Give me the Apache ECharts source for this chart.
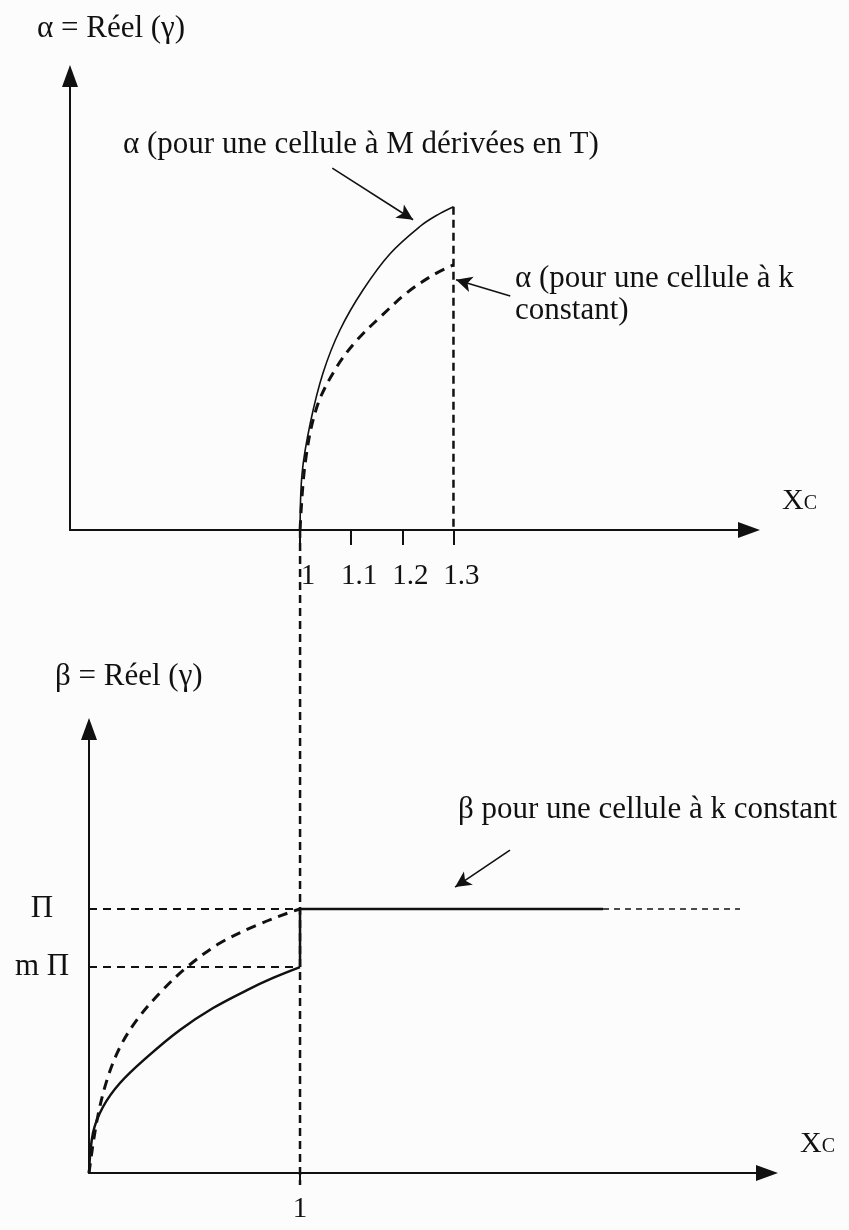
<!DOCTYPE html>
<html>
<head>
<meta charset="utf-8">
<script src="https://cdn.jsdelivr.net/npm/echarts@6/dist/echarts.min.js"></script>
<style>
  html, body { margin: 0; padding: 0; background: #fcfcfc; }
  #chart { width: 849px; height: 1230px; }
</style>
</head>
<body>
<div id="chart"></div>
<script>
// ---- upper panel: alpha versus Xc ----
const alphaX = [1, 1.004, 1.020, 1.045, 1.078, 1.123, 1.176, 1.235, 1.268, 1.3];
const alphaM = [0, 12.3, 23.0, 33.8, 43.0, 51.6, 59.4, 65.3, 67.7, 69.5];      // cell with M derived in T
const alphaKX = [1, 1.010, 1.033, 1.072, 1.112, 1.157, 1.209, 1.260, 1.3];
const alphaK = [0, 14.4, 26.5, 35.1, 40.9, 45.8, 51.0, 54.8, 57.0];      // cell with constant k
const alphaTicks = [1, 1.1, 1.2, 1.3];
const alphaTickLabels = ['1', '1.1', '1.2', '1.3'];
const arrowToM = [[1.063, 77.8], [1.221, 66.7]];
const arrowToK = [[1.411, 50.3], [1.305, 53.8]];

// ---- lower panel: beta versus Xc ----
const betaX = [0, 0.019, 0.066, 0.147, 0.275, 0.431, 0.588, 0.749, 0.872, 1];
const betaM = [0, 0.152, 0.25, 0.341, 0.439, 0.542, 0.625, 0.693, 0.739, 0.78];
const betaKX = [0, 0.038, 0.085, 0.147, 0.227, 0.336, 0.464, 0.621, 0.796, 0.967, 1];
const betaK = [0, 0.2, 0.352, 0.477, 0.58, 0.682, 0.78, 0.871, 0.939, 0.992, 1];
const PI_LEVEL = 1;
const M_PI_LEVEL = 0.78;
const plateauSolidEnd = 2.436;
const plateauDashEnd = 3.085;
const betaTicks = [1];
const betaTickLabels = ['1'];
const levelTicks = [M_PI_LEVEL, PI_LEVEL];
const levelLabels = ['m Π', 'Π'];
const arrowToPlateau = [[1.995, 1.223], [1.735, 1.083]];

const INK = '#111';
const FONT = 'Liberation Serif, Times New Roman, serif';
const zip = (xs, ys) => xs.map((x, i) => [x, ys[i]]);

const axisLine = {
  show: true, onZero: false,
  symbol: ['none', 'triangle'], symbolSize: [16, 22],
  lineStyle: { color: INK, width: 2 }
};
const textStyle = { fontFamily: FONT, fontSize: 31, color: INK, fontWeight: 'normal', lineHeight: 32 };
const xcName = {
  name: '{x|X}{c|C}',
  nameLocation: 'end',
  nameGap: 33,
  nameTextStyle: {
    verticalAlign: 'bottom', padding: [0, 0, 14, 0],
    rich: {
      x: { fontFamily: FONT, fontSize: 30, color: INK },
      c: { fontFamily: FONT, fontSize: 20, color: INK, padding: [5, 0, 0, 0] }
    }
  }
};

const line = (grid, data, width, type, extra) => Object.assign({
  type: 'line', xAxisIndex: grid, yAxisIndex: grid, data: data,
  showSymbol: false, symbol: 'none', silent: true,
  lineStyle: { color: INK, width: width, type: type }
}, extra || {});

const arrowMark = (pairs) => ({
  silent: true, symbol: ['none', 'arrow'], symbolSize: [12, 16],
  lineStyle: { color: INK, width: 1.6, type: 'solid' },
  label: { show: false },
  data: pairs.map(p => [{ coord: p[0] }, { coord: p[1] }])
});

const chart = echarts.init(document.getElementById('chart'), null, { renderer: 'canvas' });

chart.setOption({
  animation: false,
  backgroundColor: '#fcfcfc',
  title: [
    { text: 'α = Réel (γ)', left: 32, top: 8, textStyle: textStyle },
    { text: 'α (pour une cellule à M dérivées en T)', left: 118, top: 124, textStyle: textStyle },
    { text: 'α (pour une cellule à k\nconstant)', left: 510, top: 258, textStyle: textStyle },
    { text: 'β = Réel (γ)', left: 50, top: 656, textStyle: textStyle },
    { text: 'β pour une cellule à k constant', left: 453, top: 789, textStyle: textStyle }
  ],
  grid: [
    { left: 70, top: 76, width: 679, height: 454 },
    { left: 89, top: 729, width: 678, height: 444 }
  ],
  xAxis: [
    Object.assign({
      gridIndex: 0, type: 'value', min: 0.55, max: 1.878,
      axisLine: axisLine,
      axisTick: { show: true, customValues: alphaTicks, length: 15, lineStyle: { color: INK, width: 2 } },
      axisLabel: {
        customValues: alphaTicks, margin: 32,
        fontFamily: FONT, fontSize: 29, color: INK,
        formatter: v => '{t|' + alphaTickLabels[alphaTicks.indexOf(v)] + '}',
        rich: { t: { fontFamily: FONT, fontSize: 29, color: INK, padding: [0, 0, 0, 16] } }
      },
      splitLine: { show: false }
    }, xcName),
    Object.assign({
      gridIndex: 1, type: 'value', min: 0, max: 3.213,
      axisLine: axisLine,
      axisTick: { show: true, customValues: betaTicks, length: 12, lineStyle: { color: INK, width: 2 } },
      axisLabel: {
        customValues: betaTicks, margin: 22,
        fontFamily: FONT, fontSize: 29, color: INK,
        formatter: v => betaTickLabels[betaTicks.indexOf(v)]
      },
      splitLine: { show: false }
    }, xcName)
  ],
  yAxis: [
    {
      gridIndex: 0, type: 'value', min: 0, max: 97.6,
      axisLine: axisLine, axisTick: { show: false },
      axisLabel: { show: false }, splitLine: { show: false }
    },
    {
      gridIndex: 1, type: 'value', min: 0, max: 1.682,
      axisLine: axisLine, axisTick: { show: false },
      axisLabel: {
        customValues: levelTicks, margin: 47, align: 'center',
        fontFamily: FONT, fontSize: 31, color: INK,
        formatter: v => levelLabels[levelTicks.indexOf(v)]
      },
      splitLine: { show: false }
    }
  ],
  series: [
    // upper panel
    line(0, zip(alphaX, alphaM), 1.6, 'solid', {
      smooth: 0.35, markLine: arrowMark([arrowToM, arrowToK])
    }),
    line(0, zip(alphaKX, alphaK), 3, [10, 7], { smooth: 0.35 }),
    line(0, [[1.3, alphaM[alphaM.length - 1]], [1.3, 0]], 2.5, [8, 5]),

    // lower panel
    line(1, zip(betaX, betaM), 2.5, 'solid', {
      smooth: 0.35, markLine: arrowMark([arrowToPlateau])
    }),
    line(1, zip(betaKX, betaK), 3, [10, 7], { smooth: 0.35 }),
    line(1, [[0, PI_LEVEL], [1, PI_LEVEL]], 2, [8, 6]),
    line(1, [[0, M_PI_LEVEL], [1, M_PI_LEVEL]], 2, [8, 6]),
    line(1, [[1, M_PI_LEVEL], [1, PI_LEVEL]], 2.5, 'solid'),
    line(1, [[1, PI_LEVEL], [plateauSolidEnd, PI_LEVEL]], 2.5, 'solid'),
    line(1, [[plateauSolidEnd, PI_LEVEL], [plateauDashEnd, PI_LEVEL]], 1.5, [6, 5])
  ]
});

// dashed guide at Xc = 1 running from the upper axis down through the lower axis
const pTop = chart.convertToPixel({ gridIndex: 0 }, [1, 0]);
const pBot = chart.convertToPixel({ gridIndex: 1 }, [1, 0]);
chart.setOption({
  graphic: [{
    type: 'line', silent: true,
    shape: { x1: pTop[0], y1: pTop[1], x2: pBot[0], y2: pBot[1] + 12 },
    style: { stroke: INK, lineWidth: 2.5, lineDash: [8, 5] }
  }]
});
</script>
</body>
</html>
